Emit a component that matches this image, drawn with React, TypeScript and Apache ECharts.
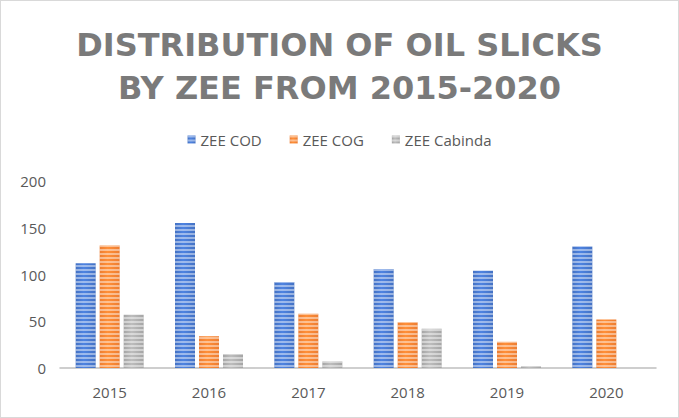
import React, { useEffect, useRef } from "react";
import * as echarts from "echarts";

const categories = ["2015", "2016", "2017", "2018", "2019", "2020"];
const seriesNames = ["ZEE COD", "ZEE COG", "ZEE Cabinda"];
const zeeCod = [112, 155, 92, 106, 104, 130];
const zeeCog = [131, 34, 58, 49, 28, 52];
const zeeCabinda = [57, 15, 7, 42, 2, 0];
const colors = ["#4472C4", "#ED7D31", "#A5A5A5"];
const titleText = "DISTRIBUTION OF OIL SLICKS\nBY ZEE FROM 2015-2020";

function barColor(c: string) {
  return {
    type: "linear",
    x: 0,
    y: 0,
    x2: 1,
    y2: 0,
    colorStops: [
      { offset: 0, color: c },
      { offset: 0.4, color: echarts.color.lift(c, -0.15) as string },
      { offset: 1, color: c },
    ],
  };
}

export default function App() {
  const ref = useRef<HTMLDivElement>(null);
  useEffect(() => {
    const chart = echarts.init(ref.current!, null, { renderer: "svg" });
    const values = [zeeCod, zeeCog, zeeCabinda];
    chart.setOption({
      animation: false,
      backgroundColor: "#ffffff",
      title: {
        text: titleText,
        left: "center",
        top: 17,
        textStyle: {
          fontFamily: "DejaVu Sans",
          fontWeight: "bold",
          fontSize: 32,
          color: "#7A7A7A",
          lineHeight: 43,
        },
      },
      legend: {
        top: 126,
        left: "center",
        itemWidth: 8,
        itemHeight: 8,
        itemGap: 28,
        icon: "rect",
        textStyle: { fontFamily: "Open Sans", fontSize: 15, color: "#595959" },
        data: seriesNames,
      },
      grid: { left: 59, right: 22, top: 180, bottom: 49 },
      xAxis: {
        type: "category",
        data: categories,
        axisLine: { lineStyle: { color: "#BFBFBF", width: 1.5 } },
        axisTick: { show: false },
        axisLabel: { fontFamily: "Open Sans", fontSize: 15, color: "#595959", margin: 16 },
      },
      yAxis: {
        type: "value",
        min: 0,
        max: 200,
        interval: 50,
        splitLine: { show: false },
        axisLine: { show: false },
        axisLabel: { fontFamily: "Open Sans", fontSize: 15, color: "#595959", margin: 14 },
      },
      series: values.map((v, i) => ({
        name: seriesNames[i],
        type: "bar",
        data: v,
        barWidth: 20,
        barGap: "20%",
        itemStyle: {
          color: barColor(colors[i]),
          decal: {
            symbol: "rect",
            dashArrayX: [1, 0],
            dashArrayY: [2, 2],
            rotation: 0,
            color: "rgba(255,255,255,0.45)",
          },
        },
      })),
    });
    return () => chart.dispose();
  }, []);
  return (
    <div
      style={{
        position: "fixed",
        left: 0,
        top: 0,
        width: 679,
        height: 418,
        boxSizing: "border-box",
        border: "1px solid #D9D9D9",
        background: "#fff",
      }}
    >
      <div ref={ref} style={{ width: 677, height: 416 }} />
    </div>
  );
}
